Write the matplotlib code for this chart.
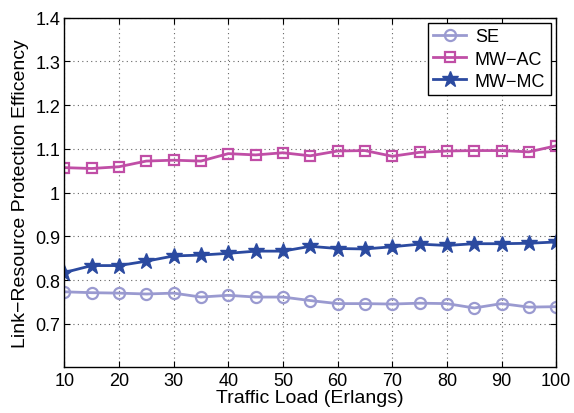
import numpy as np
import matplotlib
matplotlib.use("Agg")
import matplotlib.pyplot as plt
from matplotlib.ticker import FuncFormatter

plt.rcParams['font.family'] = ['Liberation Sans', 'DejaVu Sans']

load = [10, 15, 20, 25, 30, 35, 40, 45, 50, 55, 60, 65, 70, 75, 80, 85, 90, 95, 100]
se = [0.773, 0.771, 0.770, 0.768, 0.770, 0.761, 0.765, 0.761, 0.761, 0.753,
      0.746, 0.746, 0.745, 0.747, 0.746, 0.736, 0.746, 0.738, 0.739]
mw_ac = [1.057, 1.055, 1.059, 1.072, 1.074, 1.072, 1.089, 1.086, 1.091, 1.084,
         1.095, 1.096, 1.083, 1.092, 1.095, 1.096, 1.096, 1.093, 1.107]
mw_mc = [0.817, 0.833, 0.833, 0.843, 0.855, 0.857, 0.861, 0.866, 0.866, 0.877,
         0.872, 0.871, 0.876, 0.882, 0.879, 0.883, 0.883, 0.884, 0.887]

fig = plt.figure(figsize=(5.74, 4.14), dpi=100)
ax = fig.add_axes([0.112, 0.110, 0.857, 0.845])

ax.plot(load, se, color='#9a9ad0', lw=2, marker='o', ms=8, mfc='none', mew=1.6, label='SE')
ax.plot(load, mw_ac, color='#c04ea6', lw=2, marker='s', ms=7, mfc='none', mew=1.6, label='MW\u2212AC')
ax.plot(load, mw_mc, color='#2b4aa0', lw=2, marker='*', ms=12, label='MW\u2212MC')

ax.set_xlim(10, 100)
ax.set_ylim(0.6, 1.4)
ax.set_xticks(np.arange(10, 101, 10))
ax.set_yticks(np.arange(0.7, 1.41, 0.1))
ax.yaxis.set_major_formatter(FuncFormatter(lambda v, p: '%g' % round(v, 2)))
ax.tick_params(direction='in', top=True, right=True, labelsize=13, length=4, pad=3)
ax.grid(True, linestyle=(0, (1, 3)), color='#666666', lw=0.8)
for s in ax.spines.values():
    s.set_linewidth(1.0)

ax.set_xlabel('Traffic Load (Erlangs)', fontsize=14, labelpad=0)
ax.set_ylabel('Link\u2212Resource Protection Efficency', fontsize=14, labelpad=4)

leg = ax.legend(loc='upper right', fontsize=13, fancybox=False, edgecolor='black',
                framealpha=1, borderaxespad=0.3, handlelength=1.8, labelspacing=0.28,
                borderpad=0.3, handletextpad=0.5)
leg.get_frame().set_linewidth(1.0)

fig.savefig('out.png', dpi=100)
